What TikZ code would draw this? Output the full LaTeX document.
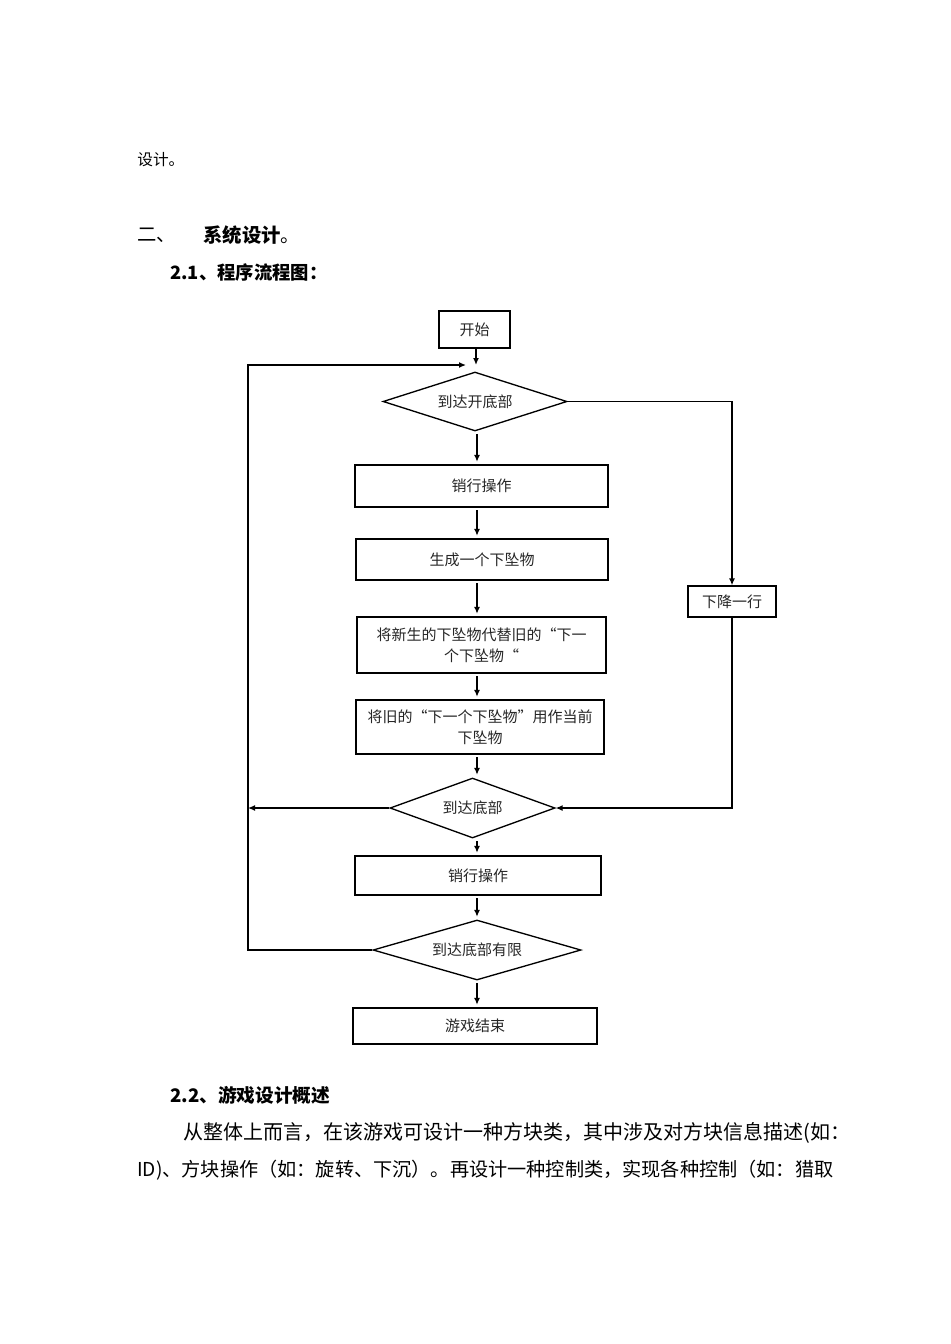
\documentclass[tikz,border=0pt]{standalone}
\usepackage{fontspec}
\setmainfont{Noto Sans CJK SC}
\usepackage{tikz}
\usetikzlibrary{shapes.geometric,arrows.meta}
\newcommand{\pxu}{0.6pt}

\begin{document}
\begin{tikzpicture}[x=\pxu,y=-\pxu,
  txt/.style={anchor=west,inner sep=0pt},
  boxnode/.style={draw,line width=0.8pt,inner sep=1pt,align=center,text=black!85,font=\fontsize{9}{12.6}\selectfont},
  decnode/.style={draw,diamond,aspect=3,inner sep=0pt,line width=0.8pt,text=black!85,font=\fontsize{9}{12.6}\selectfont},
  flow/.style={-{Latex[length=4.2pt,width=3.6pt]},line width=0.8pt}]
\useasboundingbox (0,0) rectangle (950,1344);
\node[txt,font=\fontsize{9.4}{10}\selectfont] (intro) at (137,160) {设计。};
\node[txt,font=\fontsize{11.6}{12}\selectfont] (secnum) at (137,235) {二、};
\node[txt,font=\fontsize{11.6}{12}\selectfont] (sec) at (203,235) {{\bfseries 系统设计}。};
\node[txt,font=\bfseries\fontsize{11}{12}\selectfont] (subone) at (170,272) {2.1、程序流程图：};
\coordinate (spine) at (477,0);
\coordinate (join) at (476,365);
\coordinate (loopx) at (248,0);
\node[boxnode,minimum width=71*\pxu,minimum height=37*\pxu] (start) at (474.5,329.5) {开始};
\node[decnode,minimum width=184*\pxu,minimum height=59*\pxu] (reach1) at (475,401.5) {到达开底部};
\node[boxnode,minimum width=253*\pxu,minimum height=42*\pxu] (clear1) at (481.5,486) {销行操作};
\node[boxnode,minimum width=252*\pxu,minimum height=41*\pxu] (spawn) at (482,559.5) {生成一个下坠物};
\node[boxnode,minimum width=249*\pxu,minimum height=56*\pxu] (swap) at (481.5,645) {将新生的下坠物代替旧的“下一\\个下坠物“};
\node[boxnode,minimum width=248*\pxu,minimum height=54*\pxu] (promote) at (480,727) {将旧的“下一个下坠物”用作当前\\下坠物};
\node[decnode,minimum width=165*\pxu,minimum height=60*\pxu] (reach2) at (472.5,808) {到达底部};
\node[boxnode,minimum width=88*\pxu,minimum height=31*\pxu] (drop) at (732,601.5) {下降一行};
\node[boxnode,minimum width=246*\pxu,minimum height=39*\pxu] (clear2) at (478,875.5) {销行操作};
\node[decnode,minimum width=208*\pxu,minimum height=60*\pxu] (reach3) at (477,950) {到达底部有限};
\node[boxnode,minimum width=244*\pxu,minimum height=36*\pxu] (over) at (475,1026) {游戏结束};
\draw[flow] (start.south -| join) -- (join);
\foreach \a/\b in {reach1/clear1,clear1/spawn,spawn/swap,swap/promote,promote/reach2,reach2/clear2,clear2/reach3,reach3/over}
  \draw[flow,shorten <=1.5pt,shorten >=1.5pt] (\a.south -| spine) -- (\b.north -| spine);
\draw[flow] (reach1.east) -| (drop.north);
\draw[flow] (drop.south) |- (reach2.east);
\draw[flow] (reach2.west) -- (reach2.west -| loopx);
\draw[flow,shorten >=6pt] (reach3.west) -| (loopx |- join) -- (join);
\node[txt,font=\bfseries\fontsize{11.2}{12}\selectfont] (subtwo) at (170,1095) {2.2、游戏设计概述};
\node[txt,font=\fontsize{12}{13}\selectfont] (paraone) at (183,1133) {从整体上而言，在该游戏可设计一种方块类，其中涉及对方块信息描述(如：};
\node[txt,font=\fontsize{11.5}{13}\selectfont] (paratwo) at (137,1170) {ID)、方块操作（如：旋转、下沉）。再设计一种控制类，实现各种控制（如：猎取};
\end{tikzpicture}
\end{document}
